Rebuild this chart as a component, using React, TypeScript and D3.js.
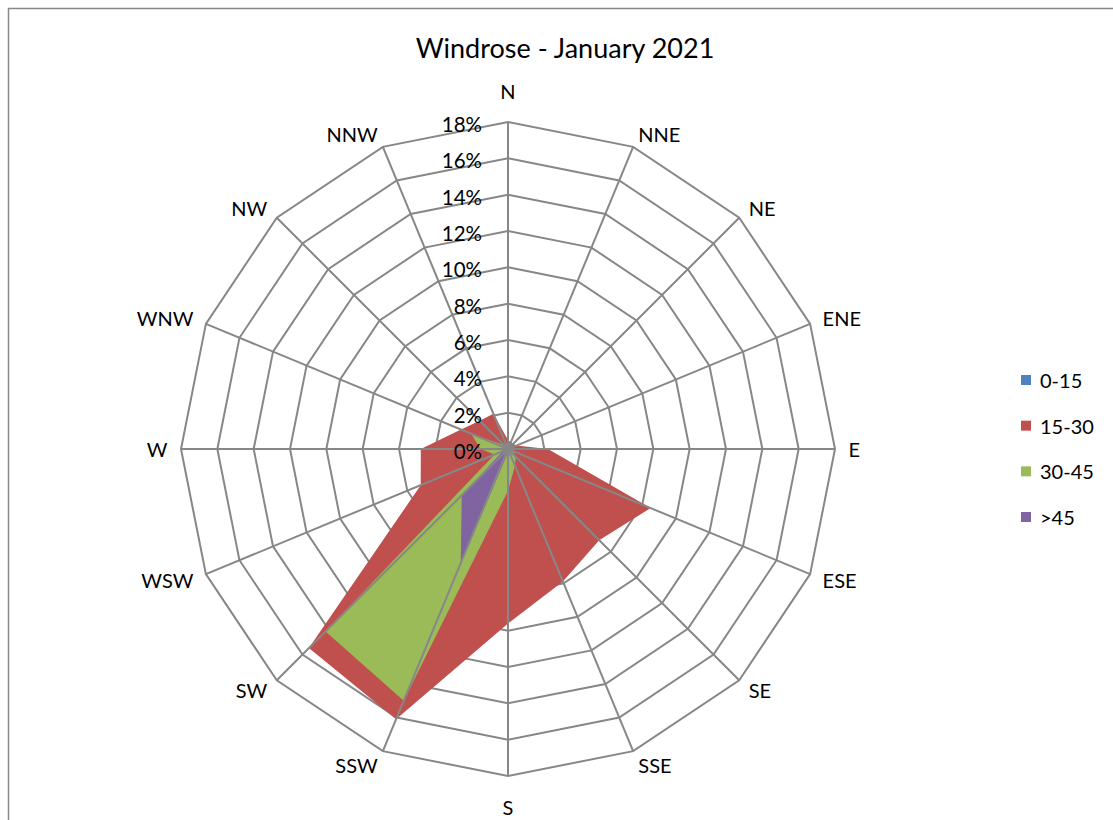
import React from "react";
import * as d3 from "d3";

const title = "Windrose - January 2021";
const directions = ["N", "NNE", "NE", "ENE", "E", "ESE", "SE", "SSE", "S", "SSW", "SW", "WSW", "W", "WNW", "NW", "NNW"];
const seriesNames = ["0-15", "15-30", "30-45", ">45"];
const seriesColors = ["#4F81BD", "#C0504D", "#9BBB59", "#8064A2"];
const values0to15 = [0, 0, 0, 0, 0, 0, 0, 0, 0, 0, 0, 0, 0, 0, 0, 0];
const values15to30 = [0.5, 0.4, 0.4, 0.5, 2.2, 8.5, 7.1, 7.9, 9.6, 16.1, 15.5, 5.2, 4.8, 2.8, 2.2, 2.1];
const values30to45 = [0, 0, 0, 0, 0.2, 0.3, 0.6, 1.0, 2.3, 15.0, 14.2, 0.8, 1.5, 2.2, 0.3, 0.2];
const valuesOver45 = [0, 0, 0, 0, 0, 0, 0, 0, 0.2, 6.8, 3.6, 0.3, 0.2, 0, 0, 0];
const radialTicks = [0, 2, 4, 6, 8, 10, 12, 14, 16, 18];

const FONT = "Lato, 'Open Sans', sans-serif";

export default function App() {
  const W = 1113;
  const H = 820;
  const cx = 508;
  const cy = 449;
  const R = 327;
  const gridColor = "#878787";

  const r = d3.scaleLinear().domain([0, 18]).range([0, R]);
  const angle = d3.scaleLinear().domain([0, directions.length]).range([0, 2 * Math.PI]);
  const radial = d3
    .lineRadial<number>()
    .angle((_, i) => angle(i))
    .radius((d) => r(d))
    .curve(d3.curveLinearClosed);

  const allSeries = [values0to15, values15to30, values30to45, valuesOver45];

  const ringPath = (v: number) => radial(directions.map(() => v)) || "";

  const legendY = d3.scaleLinear().domain([0, 3]).range([380, 517]);

  return (
    <div style={{ position: "absolute", left: 0, top: 0 }}>
      <svg width={W} height={H} style={{ display: "block", fontFamily: FONT }}>
        <rect x={0} y={0} width={W} height={H} fill="#ffffff" />
        <rect x={8.5} y={8.5} width={W + 20} height={H + 20} fill="#ffffff" stroke="#888888" strokeWidth={1.5} />
        <text x={565} y={47} textAnchor="middle" dominantBaseline="central" fontSize={27} fill="#000">
          {title}
        </text>
        <g transform={`translate(${cx},${cy})`}>
          {radialTicks.slice(1).map((t) => (
            <path key={`ring${t}`} d={ringPath(t)} fill="none" stroke={gridColor} strokeWidth={2} />
          ))}
          {allSeries.map((vals, si) => (
            <path key={`s${si}`} d={radial(vals) || ""} fill={seriesColors[si]} stroke="none" />
          ))}
          {directions.map((dname, i) => {
            const a = angle(i);
            const x2 = Math.sin(a) * r(18);
            const y2 = -Math.cos(a) * r(18);
            return <line key={`sp${dname}`} x1={0} y1={0} x2={x2} y2={y2} stroke={gridColor} strokeWidth={2} />;
          })}
          {directions.map((dname, i) => {
            const a = angle(i);
            const s = Math.sin(a);
            const c = Math.cos(a);
            const vx = s * r(18);
            const vy = -c * r(18);
            const anchor = s > 0.01 ? "start" : s < -0.01 ? "end" : "middle";
            const axial = Math.abs(c) > 0.99;
            const x = vx + 13.5 * s;
            const y = vy - c * (axial ? 31 : 14.5);
            return (
              <text key={`lb${dname}`} x={x} y={y} textAnchor={anchor} dominantBaseline="central" fontSize={20} fill="#000">
                {dname}
              </text>
            );
          })}
          {radialTicks.map((t) => (
            <text key={`tk${t}`} x={-26} y={-r(t) + 2} textAnchor="end" dominantBaseline="central" fontSize={20.5} fill="#000">
              {`${t}%`}
            </text>
          ))}
        </g>
        {seriesNames.map((name, i) => (
          <g key={`lg${name}`} transform={`translate(1021,${legendY(i)})`}>
            <rect x={0} y={-5} width={10} height={10} fill={seriesColors[i]} />
            <text x={19} y={0} dominantBaseline="central" fontSize={20} fill="#000">
              {name}
            </text>
          </g>
        ))}
      </svg>
    </div>
  );
}
